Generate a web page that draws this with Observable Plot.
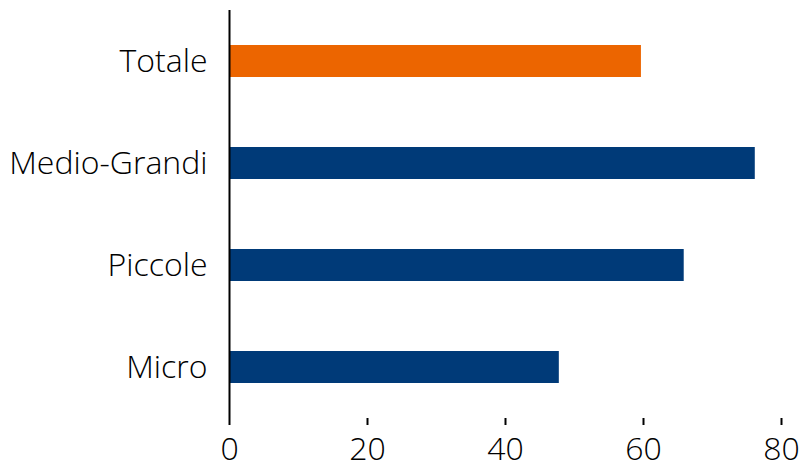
<!DOCTYPE html>
<html>
<head>
<meta charset="utf-8">
<script src="https://cdn.jsdelivr.net/npm/d3@7"></script>
<script src="https://cdn.jsdelivr.net/npm/@observablehq/plot@0.6"></script>
<style>
  html, body { margin: 0; padding: 0; background: #fff; }
  #chart svg { display: block; }
  #chart svg text { font-weight: 300; }
</style>
</head>
<body>
<div id="chart"></div>
<script>
const categories = ["Totale", "Medio-Grandi", "Piccole", "Micro"];
const values = [59.7, 76.2, 65.9, 47.8];
const barColors = ["#EC6500", "#003A78", "#003A78", "#003A78"];
const xTicks = [0, 20, 40, 60, 80];

const data = categories.map((c, i) => ({ category: c, value: values[i], color: barColors[i] }));

const chart = Plot.plot({
  width: 800,
  height: 468,
  marginTop: 10,
  marginBottom: 50,
  marginLeft: 229,
  marginRight: 19,
  style: { fontFamily: "'Open Sans', sans-serif", fontSize: "32px", color: "#000", background: "#fff" },
  x: { domain: [0, 80], ticks: xTicks },
  y: { domain: categories, paddingInner: 0.69, paddingOuter: 0.345 },
  marks: [
    Plot.barX(data, { x: "value", y: "category", fill: "color" }),
    Plot.axisX({ ticks: xTicks, tickSize: 7, tickPadding: 12, fontSize: 32, label: null, stroke: "#000", strokeWidth: 2 }),
    Plot.axisY({ tickSize: 0, tickPadding: 22, fontSize: 32, label: null }),
    Plot.ruleX([0], { stroke: "#000", strokeWidth: 2 }),
    Plot.ruleY([0], { stroke: "#000", strokeWidth: 2 })
  ]
});
document.getElementById("chart").appendChild(chart);
</script>
</body>
</html>
